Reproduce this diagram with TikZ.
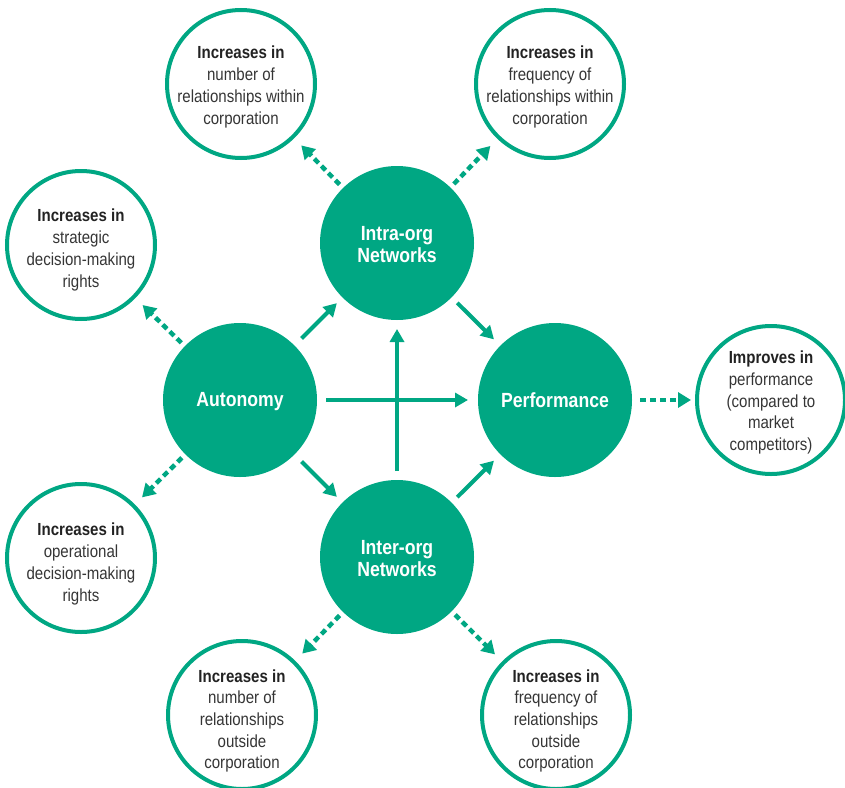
\documentclass[tikz,border=0pt]{standalone}
\usepackage{fontspec}
\setmainfont[FakeStretch=0.86]{Liberation Sans}
\usetikzlibrary{arrows.meta}
\definecolor{grn}{HTML}{00A783}
\definecolor{txtb}{HTML}{222222}
\definecolor{txtr}{HTML}{353535}
\begin{document}
\begin{tikzpicture}[x=1pt,y=-1pt,
  mainc/.style={circle,fill=grn,minimum size=154pt,inner sep=0pt,outer sep=0pt},
  maint/.style={text=white,align=center,inner sep=0pt,font=\bfseries\fontsize{20.5}{22}\selectfont},
  outc/.style={circle,draw=grn,line width=4pt,minimum size=148pt,inner sep=0pt,outer sep=0pt},
  outt/.style={text=txtr,align=center,inner sep=0pt,font=\fontsize{17.5}{21.7}\selectfont},
  solidarr/.style={draw=grn,line width=4pt,-{Triangle[length=13pt,width=14pt]}},
  dotarr/.style={draw=grn,line width=4.5pt,dash pattern=on 6pt off 4pt,
    -{Triangle[length=13pt,width=15pt]}}
]
\useasboundingbox (0,0) rectangle (845,787);
\newcommand{\hd}[1]{{\bfseries\color{txtb}#1}}
% main circles
\node[mainc] (aut) at (240,400) {};
\node[mainc] (perf) at (555,400) {};
\node[mainc] (intra) at (397,243) {};
\node[mainc] (inter) at (397,557) {};
\node[maint] (autt) at ([yshift=-2pt]aut.center) {Autonomy};
\node[maint] (perft) at ([yshift=0pt]perf.center) {Performance};
\node[maint] (intrat) at ([yshift=-2pt]intra.center) {Intra-org\\Networks};
\node[maint] (intert) at ([yshift=-2pt]inter.center) {Inter-org\\Networks};
% outer circles
\node[outc] (tl) at (241,84) {};
\node[outc] (tr) at (550,84) {};
\node[outc] (lt) at (81,245) {};
\node[outc] (lb) at (81,558) {};
\node[outc] (bl) at (242,715) {};
\node[outc] (br) at (556,715) {};
\node[outc] (rt) at (771,400) {};
\node[outt] (tlt) at ([yshift=-3pt]tl.center) {\hd{Increases in}\\number of\\relationships within\\corporation};
\node[outt] (trt) at ([yshift=-3pt]tr.center) {\hd{Increases in}\\frequency of\\relationships within\\corporation};
\node[outt] (ltt) at ([yshift=-5pt]lt.center) {\hd{Increases in}\\strategic\\decision-making\\rights};
\node[outt] (lbt) at ([yshift=-6pt]lb.center) {\hd{Increases in}\\operational\\decision-making\\rights};
\node[outt] (blt) at ([yshift=-6pt]bl.center) {\hd{Increases in}\\number of\\relationships\\outside\\corporation};
\node[outt] (brt) at ([yshift=-6pt]br.center) {\hd{Increases in}\\frequency of\\relationships\\outside\\corporation};
\node[outt] (rtt) at ([yshift=-2.5pt]rt.center) {\hd{Improves in}\\performance\\(compared to\\market\\competitors)};
% solid arrows
\draw[solidarr,shorten <=10pt,shorten >=8pt] (aut) -- (intra);
\draw[solidarr,shorten <=10pt,shorten >=8pt] (aut) -- (inter);
\draw[solidarr,shorten <=9pt,shorten >=10pt] (aut) -- (perf);
\draw[solidarr,shorten <=9pt,shorten >=9pt] (inter) -- (intra);
\draw[solidarr,shorten <=8pt,shorten >=9pt] (intra) -- (perf);
\draw[solidarr,shorten <=8pt,shorten >=9pt] (inter) -- (perf);
% dotted arrows
\draw[dotarr,shorten <=5pt,shorten >=12pt] (intra) -- (tl);
\draw[dotarr,shorten <=5pt,shorten >=12pt] (intra) -- (tr);
\draw[dotarr,shorten <=5pt,shorten >=12pt] (aut) -- (lt);
\draw[dotarr,shorten <=5pt,shorten >=12pt] (aut) -- (lb);
\draw[dotarr,shorten <=5pt,shorten >=12pt] (inter) -- (bl);
\draw[dotarr,shorten <=5pt,shorten >=12pt] (inter) -- (br);
\draw[dotarr,shorten <=8pt,shorten >=6pt] (perf) -- (rt);
\end{tikzpicture}
\end{document}
